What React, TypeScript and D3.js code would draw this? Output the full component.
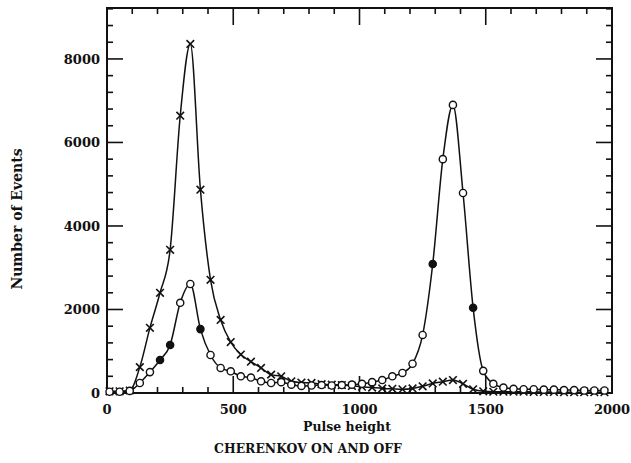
import React from "react";
import * as d3 from "d3";

const pulseHeights = [10, 50, 90, 130, 170, 210, 250, 290, 330, 370, 410, 450, 490, 530, 570, 610, 650, 690, 730, 770, 810, 850, 890, 930, 970, 1010, 1050, 1090, 1130, 1170, 1210, 1250, 1290, 1330, 1370, 1410, 1450, 1490, 1530, 1570, 1610, 1650, 1690, 1730, 1770, 1810, 1850, 1890, 1930, 1970];

const cherenkovOff = [40, 40, 60, 620, 1560, 2400, 3430, 6640, 8360, 4870, 2710, 1750, 1220, 920, 750, 600, 440, 400, 280, 250, 240, 210, 200, 190, 170, 150, 130, 110, 100, 90, 110, 160, 230, 270, 310, 220, 90, 40, 30, 30, 30, 30, 25, 25, 25, 20, 20, 20, 20, 20];

const cherenkovOn = [30, 30, 50, 240, 500, 790, 1150, 2160, 2610, 1530, 910, 600, 520, 400, 370, 280, 240, 260, 200, 170, 180, 190, 180, 190, 200, 220, 260, 310, 400, 480, 700, 1390, 3090, 5600, 6900, 4790, 2040, 530, 220, 130, 100, 90, 90, 80, 80, 70, 70, 60, 60, 60];

const filledOn = [210, 250, 370, 1290, 1450];

const xTickLabels = [0, 500, 1000, 1500, 2000];
const yTickLabels = [0, 2000, 4000, 6000, 8000];

const xTitle = "Pulse height";
const yTitle = "Number of Events";
const caption = "CHERENKOV ON AND OFF";

export default function App() {
  const W = 631, H = 463;
  const L = 107, R = 612, T = 8, B = 393;
  const x = d3.scaleLinear().domain([0, 2000]).range([L, R]);
  const y = d3.scaleLinear().domain([0, 9220]).range([B, T]);
  const line = d3
    .line<[number, number]>()
    .x((d) => x(d[0]))
    .y((d) => y(d[1]))
    .curve(d3.curveMonotoneX);
  const offPts: [number, number][] = pulseHeights.map((p, i) => [p, cherenkovOff[i]]);
  const onPts: [number, number][] = pulseHeights.map((p, i) => [p, cherenkovOn[i]]);
  const font = "'DejaVu Serif', serif";
  const xMinor = d3.range(0, 2001, 100);
  const yMinor = d3.range(0, 9220, 400);
  const ink = "#111";

  return (
    <svg width={W} height={H} style={{ position: "absolute", left: 0, top: 0, background: "#fff" }}>
      <rect x={0} y={0} width={W} height={H} fill="#fff" />
      {/* ticks */}
      <g stroke={ink} strokeWidth={1.6}>
        {xMinor.map((v) => {
          const major = v % 500 === 0;
          const len = major ? 17 : 6;
          return (
            <g key={"xt" + v}>
              <line x1={x(v)} x2={x(v)} y1={B} y2={B - len} />
              <line x1={x(v)} x2={x(v)} y1={T} y2={T + len} />
            </g>
          );
        })}
        {yMinor.map((v) => {
          const major = v % 2000 === 0;
          const len = major ? 16 : 6;
          return (
            <g key={"yt" + v}>
              <line x1={L} x2={L + len} y1={y(v)} y2={y(v)} />
              <line x1={R} x2={R - len} y1={y(v)} y2={y(v)} />
            </g>
          );
        })}
      </g>
      <rect x={L} y={T} width={R - L} height={B - T} fill="none" stroke={ink} strokeWidth={2} />
      {/* curves */}
      <path d={line(offPts) || ""} fill="none" stroke={ink} strokeWidth={1.5} />
      <path d={line(onPts) || ""} fill="none" stroke={ink} strokeWidth={1.5} />
      {/* markers */}
      <g stroke={ink} strokeWidth={1.6}>
        {offPts.map(([p, v]) => {
          const cx = x(p), cy = y(v), s = 3.8;
          return (
            <g key={"xm" + p}>
              <line x1={cx - s} x2={cx + s} y1={cy - s} y2={cy + s} />
              <line x1={cx - s} x2={cx + s} y1={cy + s} y2={cy - s} />
            </g>
          );
        })}
      </g>
      <g stroke={ink} strokeWidth={1.4}>
        {onPts.map(([p, v]) => (
          <circle
            key={"om" + p}
            cx={x(p)}
            cy={y(v)}
            r={3.6}
            fill={filledOn.includes(p) ? ink : "#fff"}
          />
        ))}
      </g>
      {/* tick labels */}
      <g fontFamily={font} fontWeight="bold" fontSize={13} fill={ink}>
        {xTickLabels.map((v) => (
          <text key={"xl" + v} x={x(v)} y={414} textAnchor="middle">
            {v}
          </text>
        ))}
        {yTickLabels.map((v) => (
          <text key={"yl" + v} x={100} y={y(v) + 5} textAnchor="end">
            {v}
          </text>
        ))}
        <text x={347} y={431} textAnchor="middle" fontSize={12.5}>
          {xTitle}
        </text>
        <text x={308} y={453} textAnchor="middle" fontSize={12.4}>
          {caption}
        </text>
        <text
          transform={`translate(22, 219) rotate(-90)`}
          textAnchor="middle"
          fontSize={14}
        >
          {yTitle}
        </text>
      </g>
    </svg>
  );
}
